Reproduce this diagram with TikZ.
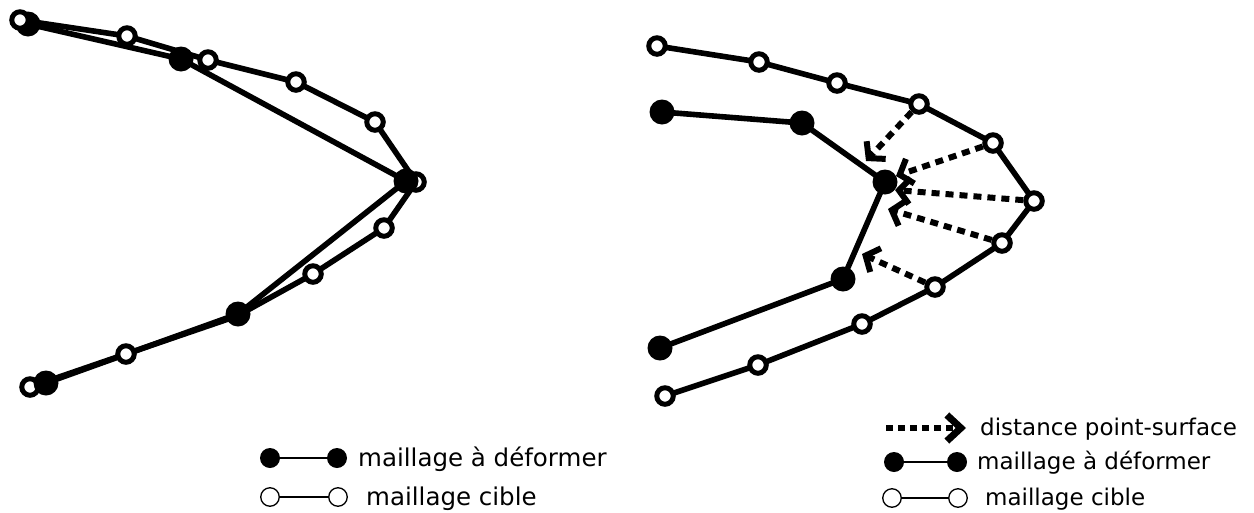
\documentclass[tikz,border=0pt]{standalone}
\usepackage{fontspec}
\setmainfont{DejaVu Sans}
\usetikzlibrary{arrows.meta}
\pgfdeclarelayer{bg}
\pgfsetlayers{bg,main}
\begin{document}
\begin{tikzpicture}[x=1pt,y=-1pt,
  mesh/.style={line width=5.6pt, line join=round},
  full/.style={circle, fill=black, minimum size=25pt, inner sep=0pt},
  hollow/.style={circle, draw=black, fill=white, line width=5pt, minimum size=16.5pt, inner sep=0pt},
  dist/.style={line width=6pt, dash pattern=on 8pt off 6pt, -{Straight Barb[length=11pt,width=26pt]}},
  ldist/.style={line width=5.5pt, dash pattern=on 7pt off 5pt, -{Straight Barb[length=14pt,width=26pt,line width=7pt]}},
  lfull/.style={circle, fill=black, minimum size=20pt, inner sep=0pt},
  lhollow/.style={circle, draw=black, fill=white, line width=1.3pt, minimum size=18.5pt, inner sep=0pt},
  lline/.style={line width=1.3pt},
  ltext/.style={anchor=base west, font=\fontsize{24.5}{29}\selectfont, inner sep=0pt},
  rtext/.style={anchor=base west, font=\fontsize{23}{28}\selectfont, inner sep=0pt}]
\useasboundingbox (0,0) rectangle (1254,512);

% ---------- left diagram ----------
\node[hollow] (t2) at (127,36) {};
\node[hollow] (t3) at (208,60) {};
\node[hollow] (t4) at (296,82) {};
\node[hollow] (t5) at (375,122) {};
\node[hollow] (t6) at (416,182) {};
\node[hollow] (t7) at (384,228) {};
\node[hollow] (t8) at (313,274) {};
\coordinate (t9) at (237,316);
\node[hollow] (t10) at (126,354) {};
\node[hollow] (t11) at (30,387) {};
\node[full] (d1) at (28,24) {};
\node[full] (d2) at (181,59) {};
\node[full] (d3) at (406,181) {};
\node[full] (d4) at (238,314) {};
\node[full] (d5) at (46,383) {};
\node[hollow] (t1) at (20,20) {};
\begin{pgfonlayer}{bg}
\draw[mesh] (t1.center) -- (t2.center) -- (t3.center) -- (t4.center) -- (t5.center) -- (t6.center)
  -- (t7.center) -- (t8.center) -- (t9) -- (t10.center) -- (t11.center);
\draw[mesh] (d1.center) -- (d2.center) -- (d3.center) -- (d4.center) -- (d5.center);
\end{pgfonlayer}

% ---------- right diagram ----------
\node[hollow] (T1) at (657,46) {};
\node[hollow] (T2) at (759,62) {};
\node[hollow] (T3) at (837,83) {};
\node[hollow] (T4) at (919,104) {};
\node[hollow] (T5) at (993,143) {};
\node[hollow] (T6) at (1034,201) {};
\node[hollow] (T7) at (1002,243) {};
\node[hollow] (T8) at (935,287) {};
\node[hollow] (T9) at (862,324) {};
\node[hollow] (T10) at (758,365) {};
\node[hollow] (T11) at (665,396) {};
\node[full] (D1) at (662,112) {};
\node[full] (D2) at (802,123) {};
\node[full] (D3) at (885,182) {};
\node[full] (D4) at (843,279) {};
\node[full] (D5) at (660,348) {};
\begin{pgfonlayer}{bg}
\draw[mesh] (T1.center) -- (T2.center) -- (T3.center) -- (T4.center) -- (T5.center) -- (T6.center)
  -- (T7.center) -- (T8.center) -- (T9.center) -- (T10.center) -- (T11.center);
\draw[mesh] (D1.center) -- (D2.center) -- (D3.center) -- (D4.center) -- (D5.center);
\end{pgfonlayer}
\coordinate (e1) at (866,161);
\coordinate (e2) at (896,176);
\coordinate (e3) at (895,190);
\coordinate (e4) at (888,209);
\coordinate (e5) at (862,254);
\draw[dist] (T4) -- (e1);
\draw[dist] (T5) -- (e2);
\draw[dist] (T6) -- (e3);
\draw[dist] (T7) -- (e4);
\draw[dist] (T8) -- (e5);

% ---------- left legend ----------
\node[lfull] (lf1) at (270,458) {};
\node[lfull] (lf2) at (337,458) {};
\draw[lline] (lf1) -- (lf2);
\node[ltext] (lt1) at (358,466) {maillage à déformer};
\node[lhollow] (lh1) at (270,497) {};
\node[lhollow] (lh2) at (338,497) {};
\draw[lline] (lh1) -- (lh2);
\node[ltext] (lt2) at (366,505) {maillage cible};

% ---------- right legend ----------
\coordinate (ra1) at (886,428);
\coordinate (ra2) at (966,428);
\draw[ldist] (ra1) -- (ra2);
\node[rtext] (rt0) at (980,435) {distance point-surface};
\node[lfull] (rf1) at (894,462) {};
\node[lfull] (rf2) at (957,462) {};
\draw[lline] (rf1) -- (rf2);
\node[rtext] (rt1) at (977,469) {maillage à déformer};
\node[lhollow] (rh1) at (892,498) {};
\node[lhollow] (rh2) at (958,498) {};
\draw[lline] (rh1) -- (rh2);
\node[rtext] (rt2) at (985,505) {maillage cible};
\end{tikzpicture}
\end{document}
